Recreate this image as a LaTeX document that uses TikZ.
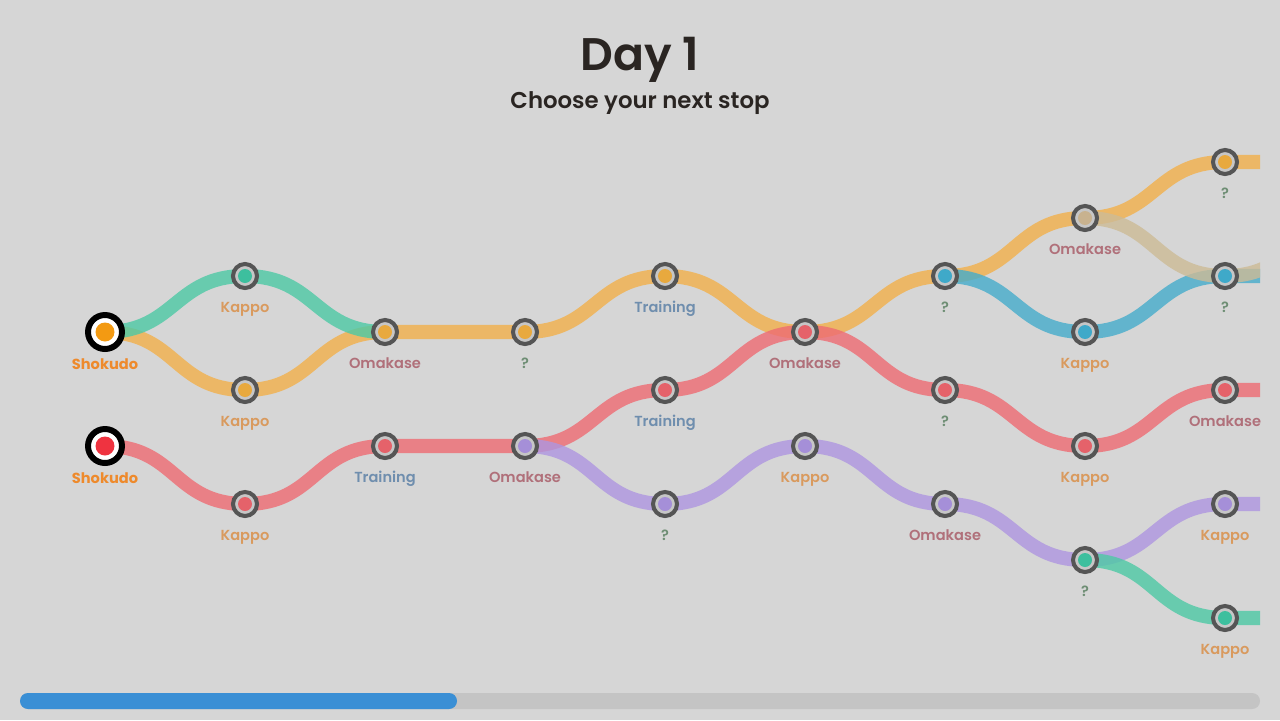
\documentclass[tikz,border=0pt]{standalone}
\usepackage{fontspec}
\setmainfont{Poppins}
\newfontfamily\medfont{Poppins Medium}
\newfontfamily\semifont{Poppins SemiBold}
\usetikzlibrary{backgrounds}

\definecolor{bg}{HTML}{D6D6D6}
\definecolor{ringgray}{HTML}{555555}
\definecolor{innergray}{HTML}{C6C6C6}
\definecolor{orangel}{HTML}{F2B04A}
\definecolor{teall}{HTML}{4DC9A5}
\definecolor{redl}{HTML}{EE6B73}
\definecolor{purplel}{HTML}{AE96E0}
\definecolor{bluel}{HTML}{45ACCB}
\definecolor{tanl}{HTML}{CDBB96}
\definecolor{orangedot}{HTML}{E8A93E}
\definecolor{tealdot}{HTML}{3DBF9E}
\definecolor{reddot}{HTML}{E5626A}
\definecolor{purpledot}{HTML}{A58FD8}
\definecolor{bluedot}{HTML}{3FA9C9}
\definecolor{tandot}{HTML}{C8B28F}
\definecolor{startorange}{HTML}{F39A12}
\definecolor{startred}{HTML}{EF3340}
\definecolor{kappoc}{HTML}{D99A5E}
\definecolor{omakasec}{HTML}{B0707A}
\definecolor{trainingc}{HTML}{6F8EAE}
\definecolor{qc}{HTML}{6E8E74}
\definecolor{shokudoc}{HTML}{EE8A2C}
\definecolor{titlec}{HTML}{2A2522}
\definecolor{trackc}{HTML}{C4C4C4}
\definecolor{barc}{HTML}{3A8FD5}

\begin{document}
\begin{tikzpicture}[x=0.02cm, y=-0.02cm,
        stop/.style={shape=circle, draw=ringgray, line width=2.3pt, fill=innergray,
            minimum size=0.48cm, inner sep=0pt,
            path picture={\fill[#1] (path picture bounding box.center) circle (0.14cm);}},
        start/.style={shape=circle, draw=black, line width=3.4pt, fill=white,
            minimum size=0.68cm, inner sep=0pt,
            path picture={\fill[#1] (path picture bounding box.center) circle (0.19cm);}},
        lbl/.style={font=\semifont\fontsize{8.3}{10}\selectfont, text=#1, inner sep=0pt, anchor=base},
        link/.style={line width=8pt, opacity=.8, out=0, in=180, looseness=1.2},
    ]
    \begin{pgfonlayer}{background}
        \fill[bg] (0,0) rectangle (1280,720);
    \end{pgfonlayer}
    \useasboundingbox (0,0) rectangle (1280,720);

    \node[font=\semifont\fontsize{26}{30}\selectfont, text=titlec, anchor=base] (title) at (640,70) {Day 1};
    \node[font=\semifont\fontsize{13}{16}\selectfont, text=titlec, anchor=base] (subtitle) at (640,108) {Choose your next stop};

    \node[start=startorange] (sho1) at (105,332) {};
    \node[start=startred] (sho2) at (105,446) {};
    \node[lbl=shokudoc, font=\bfseries\fontsize{8.3}{10}\selectfont] (sho1l) at (105,369) {Shokudo};
    \node[lbl=shokudoc, font=\bfseries\fontsize{8.3}{10}\selectfont] (sho2l) at (105,483) {Shokudo};

    \node[stop=tealdot] (kap1) at (245,276) {};
    \node[stop=orangedot] (kap2) at (245,390) {};
    \node[stop=reddot] (kap3) at (245,504) {};
    \node[lbl=kappoc] (kap1l) at (245,312) {Kappo};
    \node[lbl=kappoc] (kap2l) at (245,426) {Kappo};
    \node[lbl=kappoc] (kap3l) at (245,540) {Kappo};

    \node[stop=orangedot] (oma1) at (385,332) {};
    \node[stop=reddot] (tra1) at (385,446) {};
    \node[lbl=omakasec] (oma1l) at (385,368) {Omakase};
    \node[lbl=trainingc] (tra1l) at (385,482) {Training};

    \node[stop=orangedot] (qq1) at (525,332) {};
    \node[stop=purpledot] (oma2) at (525,446) {};
    \node[lbl=qc] (qq1l) at (525,368) {?};
    \node[lbl=omakasec] (oma2l) at (525,482) {Omakase};

    \node[stop=orangedot] (tra2) at (665,276) {};
    \node[stop=reddot] (tra3) at (665,390) {};
    \node[stop=purpledot] (qq2) at (665,504) {};
    \node[lbl=trainingc] (tra2l) at (665,312) {Training};
    \node[lbl=trainingc] (tra3l) at (665,426) {Training};
    \node[lbl=qc] (qq2l) at (665,540) {?};

    \node[stop=reddot] (oma3) at (805,332) {};
    \node[stop=purpledot] (kap4) at (805,446) {};
    \node[lbl=omakasec] (oma3l) at (805,368) {Omakase};
    \node[lbl=kappoc] (kap4l) at (805,482) {Kappo};

    \node[stop=bluedot] (qq3) at (945,276) {};
    \node[stop=reddot] (qq4) at (945,390) {};
    \node[stop=purpledot] (oma4) at (945,504) {};
    \node[lbl=qc] (qq3l) at (945,312) {?};
    \node[lbl=qc] (qq4l) at (945,426) {?};
    \node[lbl=omakasec] (oma4l) at (945,540) {Omakase};

    \node[stop=tandot] (oma5) at (1085,218) {};
    \node[stop=bluedot] (kap5) at (1085,332) {};
    \node[stop=reddot] (kap6) at (1085,446) {};
    \node[stop=tealdot] (qq5) at (1085,560) {};
    \node[lbl=omakasec] (oma5l) at (1085,254) {Omakase};
    \node[lbl=kappoc] (kap5l) at (1085,368) {Kappo};
    \node[lbl=kappoc] (kap6l) at (1085,482) {Kappo};
    \node[lbl=qc] (qq5l) at (1085,596) {?};

    \node[stop=orangedot] (qq6) at (1225,162) {};
    \node[stop=bluedot] (qq7) at (1225,276) {};
    \node[stop=reddot] (oma6) at (1225,390) {};
    \node[stop=purpledot] (kap7) at (1225,504) {};
    \node[stop=tealdot] (kap8) at (1225,618) {};
    \node[lbl=qc] (qq6l) at (1225,198) {?};
    \node[lbl=qc] (qq7l) at (1225,312) {?};
    \node[lbl=omakasec] (oma6l) at (1225,426) {Omakase};
    \node[lbl=kappoc] (kap7l) at (1225,540) {Kappo};
    \node[lbl=kappoc] (kap8l) at (1225,654) {Kappo};

    % line ends at the right edge
    \coordinate (e1) at (1260,162);
    \coordinate (e2) at (1260,276);
    \coordinate (e3) at (1260,390);
    \coordinate (e4) at (1260,504);
    \coordinate (e5) at (1260,618);
    \coordinate (e6) at (1365,218);

    \begin{pgfonlayer}{background}
        \begin{scope}
            \clip (0,0) rectangle (1260,720);
            \draw[link, orangel] (sho1.center) to (kap2.center) to (oma1.center) to (qq1.center)
                to (tra2.center) to (oma3.center) to (qq3.center) to (oma5.center) to (qq6.center) to (e1);
            \draw[link, teall] (sho1.center) to (kap1.center) to (oma1.center);
            \draw[link, redl] (sho2.center) to (kap3.center) to (tra1.center) to (oma2.center)
                to (tra3.center) to (oma3.center) to (qq4.center) to (kap6.center) to (oma6.center) to (e3);
            \draw[link, purplel] (oma2.center) to (qq2.center) to (kap4.center) to (oma4.center)
                to (qq5.center) to (kap7.center) to (e4);
            \draw[link, bluel] (qq3.center) to (kap5.center) to (qq7.center) to (e2);
            \draw[link, teall] (qq5.center) to (kap8.center) to (e5);
            \draw[link, tanl] (oma5.center) to (qq7.center) to (e6);
        \end{scope}
    \end{pgfonlayer}

    % progress bar
    \fill[trackc, rounded corners=0.16cm] (20,693) rectangle (1260,709);
    \fill[barc, rounded corners=0.16cm] (20,693) rectangle (457,709);
\end{tikzpicture}
\end{document}
